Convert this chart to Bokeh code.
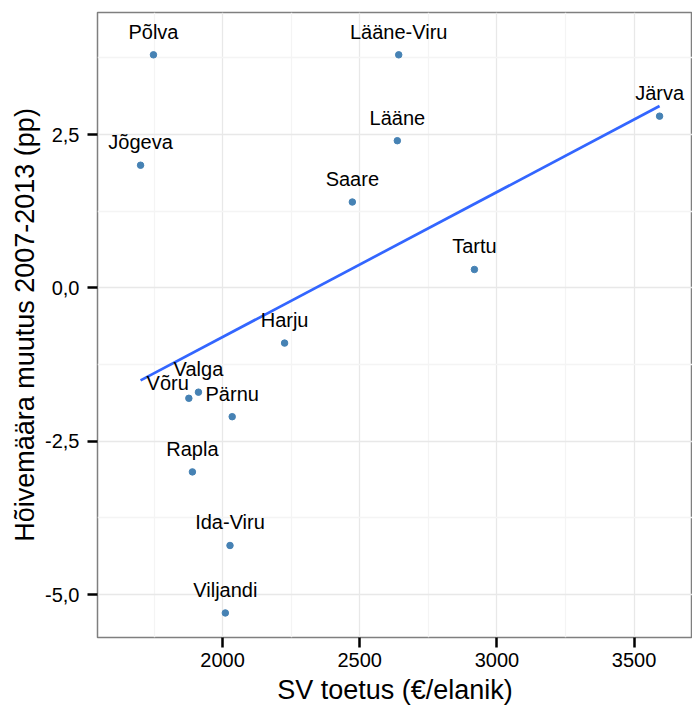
import numpy as np
from bokeh.plotting import figure
from bokeh.models import ColumnDataSource, FixedTicker, Range1d
from bokeh.core.properties import value
from bokeh.embed import file_html
from bokeh.resources import INLINE

counties = ["Põlva", "Jõgeva", "Lääne-Viru", "Lääne", "Järva", "Saare", "Tartu",
            "Harju", "Valga", "Võru", "Pärnu", "Rapla", "Ida-Viru", "Viljandi"]
sv_toetus = [1748, 1701, 2642, 2637, 3593, 2473, 2918,
             2226, 1912, 1877, 2035, 1890, 2027, 2010]
hoive_muutus = [3.8, 2.0, 3.8, 2.4, 2.8, 1.4, 0.3,
                -0.9, -1.7, -1.8, -2.1, -3.0, -4.2, -5.3]

x_ticks = [2000, 2500, 3000, 3500]
x_minor = [1750, 2250, 2750, 3250]
y_ticks = [-5.0, -2.5, 0.0, 2.5]
y_tick_labels = ["-5,0", "-2,5", "0,0", "2,5"]
y_minor = [-3.75, -1.25, 1.25, 3.75]

FONT = "Liberation Sans"

p = figure(frame_width=595, frame_height=625,
           min_border_left=97, min_border_top=12, min_border_right=0, min_border_bottom=69,
           x_range=Range1d(1544, 3713), y_range=Range1d(-5.70, 4.49),
           output_backend="svg", toolbar_location=None)

p.background_fill_color = "white"
p.border_fill_color = "white"
p.outline_line_color = "#7F7F7F"
p.outline_line_width = 1.5

p.xaxis.ticker = FixedTicker(ticks=x_ticks, minor_ticks=x_minor)
p.yaxis.ticker = FixedTicker(ticks=y_ticks, minor_ticks=y_minor)
p.yaxis.major_label_overrides = {t: l for t, l in zip(y_ticks, y_tick_labels)}

for ax in (p.xaxis, p.yaxis):
    ax.axis_line_color = None
    ax.minor_tick_line_color = None
    ax.major_tick_in = 0
    ax.major_tick_out = 10
    ax.major_tick_line_width = 2.5
    ax.major_tick_line_color = "black"
    ax.major_label_text_font = FONT
    ax.major_label_text_font_size = "20px"
    ax.major_label_text_color = "black"
    ax.axis_label_text_font = FONT
    ax.axis_label_text_font_size = "27px"
    ax.axis_label_text_font_style = "normal"
    ax.axis_label_text_color = "black"

p.xaxis.axis_label = "SV toetus (€/elanik)"
p.yaxis.axis_label = "Hõivemäära muutus 2007-2013 (pp)"
p.xaxis.major_label_standoff = 5
p.yaxis.major_label_standoff = 8
p.xaxis.axis_label_standoff = 5
p.yaxis.axis_label_standoff = 2

p.xgrid.grid_line_color = "#E8E8E8"
p.ygrid.grid_line_color = "#E8E8E8"
p.xgrid.grid_line_width = 1.3
p.ygrid.grid_line_width = 1.3
p.xgrid.minor_grid_line_color = "#F4F4F4"
p.ygrid.minor_grid_line_color = "#F4F4F4"
p.xgrid.minor_grid_line_width = 1.3
p.ygrid.minor_grid_line_width = 1.3

# linear regression line (fitted from data)
xs = np.array(sv_toetus, dtype=float)
ys = np.array(hoive_muutus, dtype=float)
slope, intercept = np.polyfit(xs, ys, 1)
fx = np.array([xs.min(), xs.max()])
p.line(fx, slope * fx + intercept, line_color="#3366FF", line_width=2.7)

src = ColumnDataSource(dict(
    x=sv_toetus, y=hoive_muutus, name=counties,
    align=["right" if c == "Võru" else "center" for c in counties],
    yoff=[-15 if c == "Võru" else -23 for c in counties],
))

p.scatter("x", "y", source=src, size=6.5, fill_color="#4682B4", line_color="#4682B4")

p.text("x", "y", text="name", source=src, text_align="align", y_offset="yoff",
       text_baseline="alphabetic", text_font=value(FONT), text_font_size="20px",
       text_color="black")

open("out.html", "w").write(file_html(p, INLINE))
